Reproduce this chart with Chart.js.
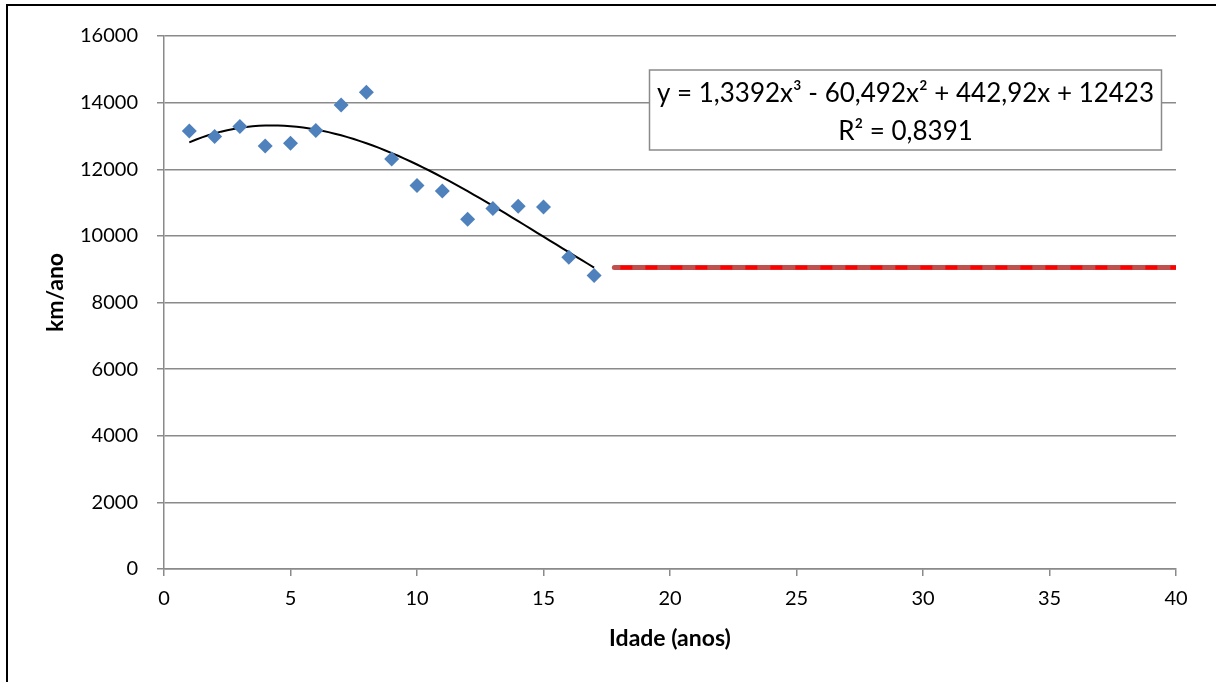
<!DOCTYPE html>
<html lang="pt">
<head>
<meta charset="utf-8">
<title>Quilometragem anual por idade</title>
<script src="https://cdn.jsdelivr.net/npm/chart.js@4/dist/chart.umd.min.js"></script>
<style>
  html, body { margin: 0; padding: 0; background: #fff; }
  #grafico-wrap { width: 1216px; height: 682px; }
</style>
</head>
<body>
<div id="grafico-wrap">
  <canvas id="grafico" width="1216" height="682"></canvas>
</div>
<script>
// Idade do veículo (anos) e quilometragem média anual
const idade = [1, 2, 3, 4, 5, 6, 7, 8, 9, 10, 11, 12, 13, 14, 15, 16, 17];
const kmAno = [13150, 12980, 13280, 12700, 12780, 13160, 13930, 14310, 12310,
               11510, 11350, 10500, 10820, 10890, 10870, 9360, 8810];

// Linha de tendência polinomial (ordem 3): a0 + a1*x + a2*x^2 + a3*x^3
const coefTendencia = [12423, 442.92, -60.492, 1.3392];
const faixaTendencia = [1, 17];
const textoEquacao = ['y = 1,3392x³ - 60,492x² + 442,92x + 12423', 'R² = 0,8391'];

// Valor constante usado a partir do fim da série
const idadeConstante = [17.8, 40];
const kmConstante = [9050, 9050];

// Eixos
const ticksX = [0, 5, 10, 15, 20, 25, 30, 35, 40];
const ticksY = [0, 2000, 4000, 6000, 8000, 10000, 12000, 14000, 16000];
const tituloY = 'km/ano';

const pontos = idade.map((x, i) => ({ x: x, y: kmAno[i] }));

function tendencia(x) {
    return coefTendencia.reduce((s, a, k) => s + a * Math.pow(x, k), 0);
}
const curva = [];
for (let x = faixaTendencia[0]; x <= faixaTendencia[1] + 1e-9; x += 0.25) {
    curva.push({ x: x, y: tendencia(x) });
}

const constante = idadeConstante.map((x, i) => ({ x: x, y: kmConstante[i] }));

const corGrade = '#8a8a8a';
const fonte = 'Lato, "Open Sans", sans-serif';

// moldura, título vertical e caixa com a equação da tendência
const moldura = {
    id: 'moldura',
    afterDraw(chart) {
        const ctx = chart.ctx;
        ctx.save();
        ctx.strokeStyle = '#000';
        ctx.lineWidth = 2;
        ctx.beginPath();
        ctx.moveTo(7, chart.height);
        ctx.lineTo(7, 5);
        ctx.lineTo(chart.width, 5);
        ctx.stroke();

        // título do eixo y, um pouco acima do centro da área
        const area = chart.chartArea;
        ctx.save();
        ctx.translate(56, (area.top + area.bottom) / 2 - 10);
        ctx.rotate(-Math.PI / 2);
        ctx.fillStyle = '#000';
        ctx.font = 'bold 23px ' + fonte;
        ctx.textAlign = 'center';
        ctx.textBaseline = 'middle';
        ctx.fillText(tituloY, 0, 0);
        ctx.restore();

        const bx = 649.5, by = 70, bw = 512, bh = 80;
        ctx.fillStyle = '#fff';
        ctx.fillRect(bx, by, bw, bh);
        ctx.strokeStyle = corGrade;
        ctx.lineWidth = 1.5;
        ctx.strokeRect(bx, by, bw, bh);

        ctx.fillStyle = '#000';
        ctx.font = '26px ' + fonte;
        ctx.textAlign = 'center';
        ctx.textBaseline = 'alphabetic';
        ctx.fillText(textoEquacao[0], bx + bw / 2, 102);
        ctx.fillText(textoEquacao[1], bx + bw / 2, 140);
        ctx.restore();
    }
};

const ctx = document.getElementById('grafico').getContext('2d');
new Chart(ctx, {
    type: 'scatter',
    data: {
        datasets: [
            {
                label: 'km/ano',
                data: pontos,
                backgroundColor: '#4f81bd',
                borderColor: '#4f81bd',
                pointStyle: 'rectRot',
                pointRadius: 7.5,
                pointBorderWidth: 0,
                showLine: false
            },
            {
                label: 'Polinomial (km/ano)',
                data: curva,
                showLine: true,
                borderColor: '#000',
                borderWidth: 2,
                pointRadius: 0,
                tension: 0
            },
            {
                label: 'Constante',
                data: constante,
                showLine: true,
                borderColor: '#ff0000',
                borderWidth: 4,
                borderDash: [12, 13],
                borderDashOffset: -6,
                pointRadius: 0
            },
            {
                label: 'Constante (base)',
                data: constante,
                showLine: true,
                borderColor: '#c0504d',
                borderWidth: 5,
                borderCapStyle: 'round',
                pointRadius: 0
            }
        ]
    },
    options: {
        responsive: false,
        animation: false,
        devicePixelRatio: 1,
        layout: { padding: { left: 0, top: 36, right: 40, bottom: 0 } },
        plugins: {
            legend: { display: false },
            tooltip: { enabled: false }
        },
        scales: {
            x: {
                type: 'linear',
                min: 0,
                max: 40,
                afterFit(scale) { scale.height = 113; },
                afterBuildTicks(scale) { scale.ticks = ticksX.map(v => ({ value: v })); },
                border: { color: corGrade, width: 1.5 },
                grid: { drawOnChartArea: false, drawTicks: true, tickLength: 7, color: corGrade, lineWidth: 1.5 },
                ticks: {
                    color: '#000',
                    font: { family: fonte, size: 20 },
                    padding: 11,
                    maxRotation: 0,
                    callback: v => String(v)
                },
                title: {
                    display: true,
                    text: 'Idade (anos)',
                    color: '#000',
                    font: { family: fonte, size: 23, weight: 'bold' },
                    padding: { top: 0, bottom: 30 }
                }
            },
            y: {
                type: 'linear',
                min: 0,
                max: 16000,
                afterFit(scale) { scale.width = 164; },
                afterBuildTicks(scale) { scale.ticks = ticksY.map(v => ({ value: v })); },
                border: { color: corGrade, width: 1.5 },
                grid: { drawTicks: true, tickLength: 7, color: corGrade, lineWidth: 1.5 },
                ticks: {
                    color: '#000',
                    font: { family: fonte, size: 20 },
                    padding: 19,
                    callback: v => String(v)
                },
                title: { display: false }
            }
        }
    },
    plugins: [moldura]
});
</script>
</body>
</html>
